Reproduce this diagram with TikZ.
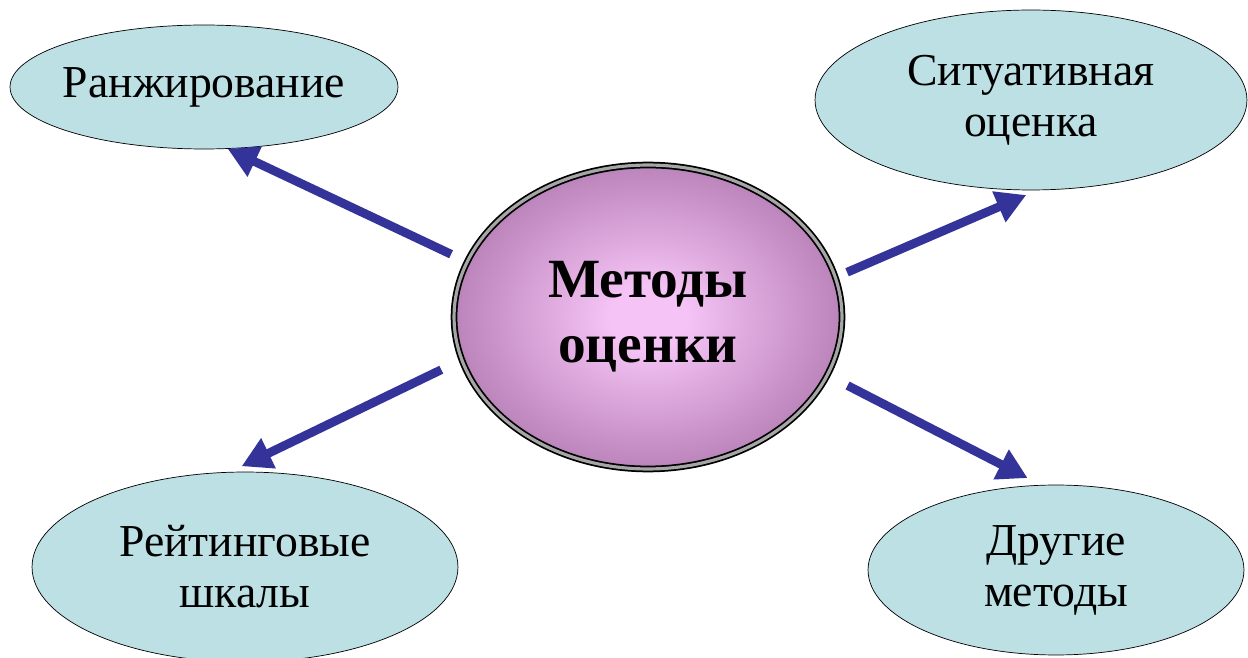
\documentclass[tikz,border=0pt]{standalone}
\usepackage{fontspec}
\setmainfont{Liberation Serif}
\usepackage{xcolor}
\usetikzlibrary{shapes.geometric, arrows.meta}
\definecolor{MethPink}{RGB}{245, 195, 245}
\definecolor{MethMid}{RGB}{190, 135, 190}
\definecolor{MethMauve}{RGB}{120, 82, 120}
\definecolor{LeafBlue}{RGB}{188, 224, 228}
\definecolor{ArrowBlue}{RGB}{51, 51, 153}
\pgfdeclareradialshading{methglow}{\pgfpoint{0bp}{0bp}}{color(0bp)=(MethPink); color(5bp)=(MethPink); color(24bp)=(MethMid); color(35bp)=(MethMauve); color(50bp)=(MethMauve)}

\begin{document}
\begin{tikzpicture}[
    x=0.02cm, y=-0.02cm,
    % Styles
    leaf/.style={ellipse, draw=black, thin, fill=LeafBlue, inner sep=-6pt, align=center, font=\fontsize{26}{29}\selectfont},
    core/.style={ellipse, draw=black, line width=1pt, double=black!35, double distance=1.8pt, shade, shading=methglow, inner sep=0pt, align=center, font=\fontsize{31.5}{37}\selectfont\bfseries},
    arrow/.style={line width=5pt, draw=ArrowBlue, -{Triangle[length=17pt, width=18pt]}}
]
\useasboundingbox (0,0) rectangle (1248,658);

% ==========================================================================================
% CENTRE
% ==========================================================================================
\node[core, minimum width=7.76cm, minimum height=6.08cm] (meth) at (648,317) {Методы\\оценки};

% ==========================================================================================
% OUTER METHODS
% ==========================================================================================
\node[leaf, minimum width=7.76cm, minimum height=2.48cm] (rank) at (204,87) {Ранжирование};
\node[leaf, minimum width=8.64cm, minimum height=3.6cm] (situ) at (1031,100) {Ситуативная\\оценка};
\node[leaf, minimum width=8.52cm, minimum height=3.8cm] (rate) at (245,567) {Рейтинговые\\шкалы};
\node[leaf, minimum width=7.52cm, minimum height=3.4cm] (other) at (1056,570) {Другие\\методы};

% Arrows
\draw[arrow, shorten <=0.34cm] (meth.163) -- (rank.-69);
\draw[arrow, shorten <=0.24cm, shorten >=0.24cm] (meth.12) -- (situ.-86);
\draw[arrow, shorten <=0.44cm, shorten >=0.26cm] (meth.193) -- (rate.99);
\draw[arrow, shorten <=0.44cm, shorten >=0.3cm] (meth.-18) -- (other.100);

\end{tikzpicture}
\end{document}
